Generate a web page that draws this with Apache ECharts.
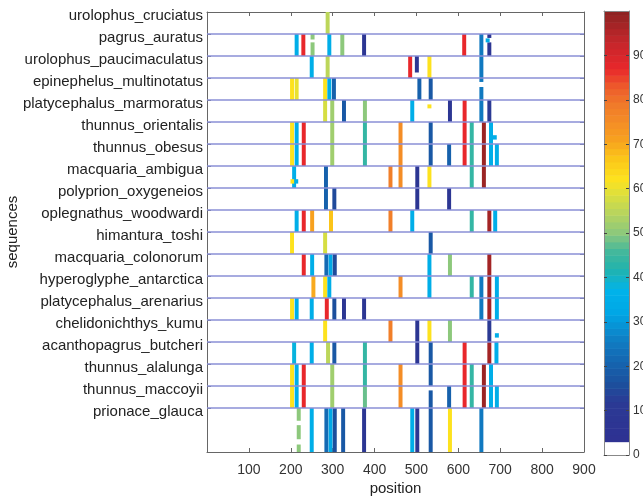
<!DOCTYPE html>
<html>
<head>
<meta charset="utf-8">
<script src="https://cdn.jsdelivr.net/npm/echarts@6/dist/echarts.min.js"></script>
<style>
  html, body { margin: 0; padding: 0; background: #ffffff; }
  #chart { width: 643px; height: 498px; }
</style>
</head>
<body>
<div id="chart"></div>
<script>
// ---------------- data ----------------
const sequences = [
  'urolophus_cruciatus', 'pagrus_auratus', 'urolophus_paucimaculatus',
  'epinephelus_multinotatus', 'platycephalus_marmoratus', 'thunnus_orientalis',
  'thunnus_obesus', 'macquaria_ambigua', 'polyprion_oxygeneios',
  'oplegnathus_woodwardi', 'himantura_toshi', 'macquaria_colonorum',
  'hyperoglyphe_antarctica', 'platycephalus_arenarius', 'chelidonichthys_kumu',
  'acanthopagrus_butcheri', 'thunnus_alalunga', 'thunnus_maccoyii', 'prionace_glauca'
];

// full-height cells: [sequence index, position, value]
const bars = [
  [0, 288, 55],
  [1, 214, 35], [1, 230, 87], [1, 292, 35], [1, 323, 50], [1, 375, 8], [1, 614, 87], [1, 655, 25],
  [2, 250, 35], [2, 288, 55], [2, 485, 87], [2, 531, 62], [2, 655, 25],
  [3, 203, 62], [3, 214, 60], [3, 282, 62], [3, 292, 35], [3, 303, 20], [3, 507, 20], [3, 534, 18],
  [4, 282, 58], [4, 299, 52], [4, 327, 18], [4, 377, 50], [4, 490, 35], [4, 580, 8], [4, 615, 87], [4, 655, 25], [4, 674, 12],
  [5, 203, 62], [5, 214, 35], [5, 231, 87], [5, 299, 52], [5, 377, 44], [5, 462, 75], [5, 534, 18], [5, 615, 87], [5, 632, 44], [5, 661, 98], [5, 678, 35],
  [6, 203, 62], [6, 214, 35], [6, 231, 87], [6, 299, 52], [6, 377, 44], [6, 462, 75], [6, 534, 18], [6, 578, 20], [6, 615, 87], [6, 632, 44], [6, 661, 98], [6, 678, 35], [6, 692, 35],
  [7, 208, 35], [7, 284, 20], [7, 438, 78], [7, 462, 75], [7, 502, 8], [7, 531, 62], [7, 632, 44], [7, 661, 98],
  [8, 284, 20], [8, 304, 15], [8, 502, 8], [8, 578, 8],
  [9, 214, 35], [9, 231, 87], [9, 251, 71], [9, 296, 67], [9, 438, 78], [9, 490, 35], [9, 632, 44], [9, 674, 97], [9, 688, 35],
  [10, 203, 62], [10, 282, 58], [10, 534, 18],
  [11, 231, 87], [11, 251, 35], [11, 285, 22], [11, 295, 33], [11, 305, 15], [11, 531, 35], [11, 580, 50], [11, 674, 97],
  [12, 254, 70], [12, 282, 62], [12, 292, 35], [12, 462, 75], [12, 531, 35], [12, 632, 44], [12, 655, 25], [12, 674, 97], [12, 692, 35],
  [13, 203, 62], [13, 214, 35], [13, 250, 35], [13, 286, 87], [13, 304, 16], [13, 327, 8], [13, 375, 8], [13, 655, 25], [13, 674, 97], [13, 692, 35],
  [14, 282, 62], [14, 438, 78], [14, 502, 8], [14, 531, 62], [14, 580, 50], [14, 674, 12],
  [15, 208, 38], [15, 250, 35], [15, 289, 55], [15, 304, 18], [15, 377, 44], [15, 502, 8], [15, 534, 18], [15, 615, 87], [15, 674, 97], [15, 691, 35],
  [16, 203, 62], [16, 214, 35], [16, 231, 87], [16, 299, 52], [16, 377, 44], [16, 462, 75], [16, 534, 18], [16, 615, 87], [16, 632, 44], [16, 661, 98], [16, 678, 35],
  [17, 203, 62], [17, 214, 35], [17, 231, 87], [17, 299, 52], [17, 377, 48], [17, 462, 75], [17, 578, 20], [17, 615, 87], [17, 632, 44], [17, 661, 98], [17, 678, 35], [17, 692, 35],
  [18, 250, 35], [18, 285, 22], [18, 295, 33], [18, 305, 16], [18, 325, 18], [18, 375, 8], [18, 490, 35], [18, 502, 8], [18, 534, 18], [18, 580, 62], [18, 655, 25]
];

// partial cells: [sequence index, position, value, from (fraction of row), to (fraction of row)]
const partialBars = [
  [1, 252, 50, 0, 0.25], [1, 252, 50, 0.38, 1],
  [1, 674, 8, 0, 0.18], [1, 674, 8, 0.38, 1], [1, 670, 35, 0.2, 0.38],
  [2, 501, 8, 0, 0.75],
  [3, 655, 25, 0, 0.18], [3, 655, 25, 0.41, 1],
  [4, 531, 62, 0.2, 0.38],
  [5, 687, 35, 0.6, 0.8],
  [7, 204, 62, 0.6, 0.8], [7, 213, 35, 0.6, 0.8],
  [14, 692, 35, 0.6, 0.8],
  [17, 534, 18, 0.2, 1],
  [18, 219, 50, 0, 0.29], [18, 219, 50, 0.39, 0.71], [18, 219, 50, 0.83, 1]
];

const colorbarTicks = [0, 10, 20, 30, 40, 50, 60, 70, 80, 90];

// ---------------- colour map ----------------
const colorStops = [
  [3, '#2e3192'], [12, '#2b3a94'], [16, '#1c4f9d'], [21, '#1565b0'], [26, '#0f7ec4'],
  [32, '#00a6e6'], [37, '#00b3ea'], [42, '#22b3ac'], [46, '#45b89b'], [50, '#8dc87c'],
  [55, '#bcd65a'], [59, '#dfe03a'], [62, '#fde21e'], [67, '#fbc419'], [71, '#f7a11f'],
  [75, '#f48d26'], [79, '#f07a2a'], [83, '#ed5a2b'], [87, '#e8272b'], [93, '#c4262b'],
  [100, '#8b2321']
];
function hexToRgb(h) { return [parseInt(h.slice(1,3),16), parseInt(h.slice(3,5),16), parseInt(h.slice(5,7),16)]; }
function colorAt(v) {
  if (v < colorStops[0][0]) return '#ffffff';
  for (let i = 0; i < colorStops.length - 1; i++) {
    const a = colorStops[i], b = colorStops[i + 1];
    if (v >= a[0] && v <= b[0]) {
      const t = (v - a[0]) / (b[0] - a[0]);
      const ca = hexToRgb(a[1]), cb = hexToRgb(b[1]);
      const c = ca.map((x, k) => Math.round(x + (cb[k] - x) * t));
      return 'rgb(' + c.join(',') + ')';
    }
  }
  return colorStops[colorStops.length - 1][1];
}

// ---------------- derived series data ----------------
const rowSpan = i => (i === sequences.length - 1 ? 2 : 1);
const cellData = [];
bars.forEach(b => cellData.push([b[1], b[0], b[0] + rowSpan(b[0]), b[2]]));
partialBars.forEach(b => {
  const s = rowSpan(b[0]);
  cellData.push([b[1], b[0] + b[3] * s, b[0] + b[4] * s, b[2]]);
});
const separators = sequences.map((_, i) => [i]).slice(1);
const colorbarBands = [[0, 3]];
for (let lo = 3; lo < 100; lo += 1.5) colorbarBands.push([lo, Math.min(100, lo + 1.5)]);

const FONT = '"Liberation Sans", Arial, Helvetica, sans-serif';
const CELL_W = 9.5;
const yTickValues = sequences.map((_, i) => i);

const chart = echarts.init(document.getElementById('chart'), null, { renderer: 'canvas' });
chart.setOption({
  animation: false,
  backgroundColor: '#ffffff',
  grid: [
    { left: 207, right: 59, top: 12, bottom: 46, outerBoundsMode: 'none', containLabel: false },
    { left: 604, width: 25, top: 11, bottom: 43, outerBoundsMode: 'none', containLabel: false }
  ],
  xAxis: [
    {
      gridIndex: 0, type: 'value', min: 0, max: 900, interval: 100, position: 'bottom',
      name: 'position', nameLocation: 'middle', nameGap: 29, nameMoveOverlap: false,
      nameTextStyle: { fontFamily: FONT, fontSize: 15, color: '#222' },
      axisLine: { show: true, onZero: false, lineStyle: { color: '#666', width: 1 } },
      axisTick: { show: true, inside: true, length: 4, lineStyle: { color: '#666' } },
      axisLabel: { showMinLabel: false, fontFamily: FONT, fontSize: 14, color: '#333', margin: 11 },
      splitLine: { show: false }
    },
    {
      gridIndex: 0, type: 'value', min: 0, max: 900, interval: 100, position: 'top',
      axisLine: { show: true, onZero: false, lineStyle: { color: '#666', width: 1 } },
      axisTick: { show: true, inside: true, length: 4, lineStyle: { color: '#666' } },
      axisLabel: { show: false }, splitLine: { show: false }
    },
    {
      gridIndex: 1, type: 'value', min: 0, max: 1, position: 'bottom', z: 5,
      axisLine: { show: true, onZero: false, lineStyle: { color: '#888', width: 1 } },
      axisTick: { show: false }, axisLabel: { show: false }, splitLine: { show: false }
    },
    {
      gridIndex: 1, type: 'value', min: 0, max: 1, position: 'top', z: 5,
      axisLine: { show: true, onZero: false, lineStyle: { color: '#888', width: 1 } },
      axisTick: { show: false }, axisLabel: { show: false }, splitLine: { show: false }
    }
  ],
  yAxis: [
    {
      gridIndex: 0, type: 'value', inverse: true, min: 0, max: 20, interval: 1, position: 'left',
      name: 'sequences', nameLocation: 'middle', nameGap: 187, nameRotate: 90, nameMoveOverlap: false,
      nameTextStyle: { fontFamily: FONT, fontSize: 15, color: '#222' },
      axisLine: { show: true, onZero: false, lineStyle: { color: '#666', width: 1 } },
      axisTick: { show: true, inside: true, length: 4, customValues: yTickValues, lineStyle: { color: '#666' } },
      axisLabel: {
        customValues: yTickValues,
        formatter: v => (sequences[v] !== undefined ? sequences[v] : ''),
        fontFamily: FONT, fontSize: 15, color: '#222', margin: 4,
        verticalAlign: 'top', lineHeight: 7
      },
      splitLine: { show: false }
    },
    {
      gridIndex: 0, type: 'value', inverse: true, min: 0, max: 20, interval: 1, position: 'right',
      axisLine: { show: true, onZero: false, lineStyle: { color: '#666', width: 1 } },
      axisTick: { show: true, inside: true, length: 4, customValues: yTickValues, lineStyle: { color: '#666' } },
      axisLabel: { show: false }, splitLine: { show: false }
    },
    {
      gridIndex: 1, type: 'value', min: 0, max: 100, interval: 10, position: 'right', z: 5,
      axisLine: { show: true, onZero: false, lineStyle: { color: '#888', width: 1 } },
      axisTick: { show: true, inside: true, length: 3, customValues: colorbarTicks, lineStyle: { color: '#444' } },
      axisLabel: { customValues: colorbarTicks, fontFamily: FONT, fontSize: 12, color: '#333', margin: 4 },
      splitLine: { show: false }
    },
    {
      gridIndex: 1, type: 'value', min: 0, max: 100, interval: 10, position: 'left', z: 5,
      axisLine: { show: true, onZero: false, lineStyle: { color: '#888', width: 1 } },
      axisTick: { show: true, inside: true, length: 3, customValues: colorbarTicks, lineStyle: { color: '#444' } },
      axisLabel: { show: false }, splitLine: { show: false }
    }
  ],
  series: [
    {
      type: 'custom', xAxisIndex: 0, yAxisIndex: 0, z: 2,
      data: cellData,
      clip: true,
      renderItem: (params, api) => {
        const x = api.value(0), y0 = api.value(1), y1 = api.value(2), v = api.value(3);
        const p0 = api.coord([x - CELL_W / 2, y0]);
        const p1 = api.coord([x + CELL_W / 2, y1]);
        return {
          type: 'rect',
          shape: { x: p0[0], y: p0[1], width: p1[0] - p0[0], height: p1[1] - p0[1] },
          style: { fill: colorAt(v) }
        };
      }
    },
    {
      type: 'custom', xAxisIndex: 0, yAxisIndex: 0, z: 3,
      data: separators,
      renderItem: (params, api) => {
        const y = api.value(0);
        const a = api.coord([0, y]);
        const b = api.coord([900, y]);
        return {
          type: 'line',
          shape: { x1: a[0], y1: a[1], x2: b[0], y2: b[1] },
          style: { stroke: '#8a8fd6', lineWidth: 1.3 }
        };
      }
    },
    {
      type: 'custom', xAxisIndex: 2, yAxisIndex: 2, z: 2,
      data: colorbarBands,
      renderItem: (params, api) => {
        const lo = api.value(0), hi = api.value(1);
        const p0 = api.coord([0, hi]);
        const p1 = api.coord([1, lo]);
        return {
          type: 'rect',
          shape: { x: p0[0], y: p0[1], width: p1[0] - p0[0], height: p1[1] - p0[1] + 0.5 },
          style: { fill: colorAt(lo < 3 ? 0 : (lo + hi) / 2) }
        };
      }
    }
  ]
});
</script>
</body>
</html>
